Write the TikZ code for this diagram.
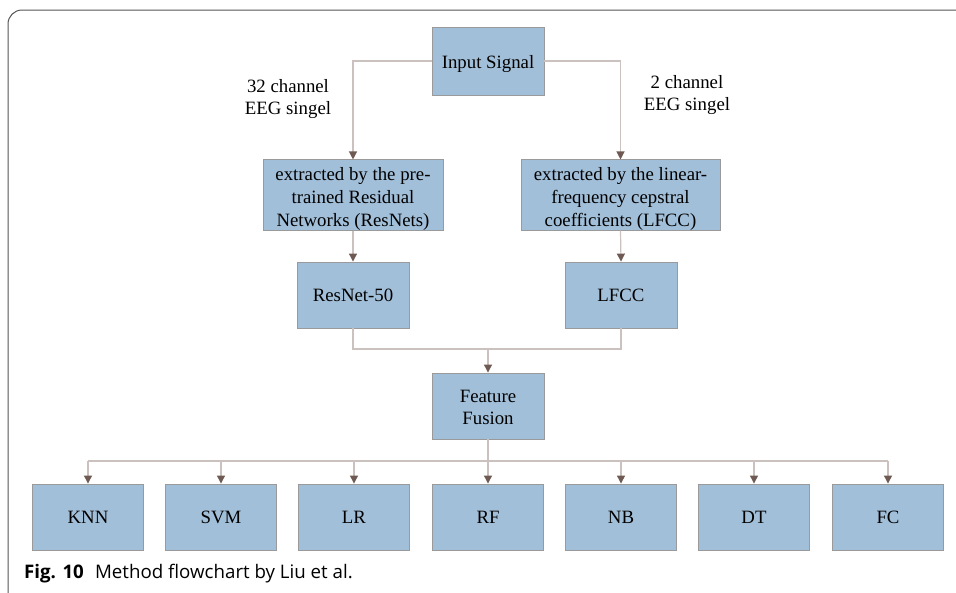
\documentclass[tikz,border=0pt]{standalone}
\usepackage{fontspec}
\setmainfont{Liberation Serif}
\newfontfamily\capfont{Open Sans}
\usetikzlibrary{arrows.meta}
\definecolor{boxfill}{HTML}{A2BFD9}
\definecolor{boxline}{HTML}{9A9A9A}
\definecolor{wire}{HTML}{CBC1BE}
\definecolor{tipcol}{HTML}{6E5A52}
\definecolor{framecol}{HTML}{555555}
% invisible strut to push the first text line a little lower in its box
\newcommand{\droptext}[1]{\rule{0pt}{#1}}
\tikzset{
  stepbox/.style={draw=boxline, line width=0.9pt, fill=boxfill, inner sep=0pt,
    font=\fontsize{18.8}{22.6}\selectfont, align=center},
  wire/.style={draw=wire, line width=1.2pt},
  flow/.style={wire, -{Triangle[width=8pt,length=8pt,color=tipcol]}},
  lbl/.style={font=\fontsize{18.8}{22.6}\selectfont, align=center, inner sep=0pt}
}
\begin{document}
\begin{tikzpicture}[x=1pt,y=-1pt]
\useasboundingbox (0,0) rectangle (956,592);
% outer frame
\begin{scope}
\clip (0,0) rectangle (956,592);
\draw[framecol, line width=1pt, rounded corners=14pt] (8,10) rectangle (990,640);
\end{scope}
% nodes
\node[stepbox, minimum width=112pt, minimum height=68pt] (in) at (488,61) {\droptext{18.5pt}Input Signal};
\node[stepbox, minimum width=180pt, minimum height=68pt] (ext1) at (353,195)
  {\droptext{21pt}extracted by the pre-\\trained Residual\\Networks (ResNets)};
\node[stepbox, minimum width=199pt, minimum height=68pt] (ext2) at (620.5,195)
  {\droptext{21pt}extracted by the linear-\\frequency cepstral\\coefficients (LFCC)};
\node[stepbox, minimum width=112pt, minimum height=66pt] (res) at (353,295) {ResNet-50};
\node[stepbox, minimum width=112pt, minimum height=66pt] (lfcc) at (621,295) {LFCC};
\node[stepbox, minimum width=112pt, minimum height=66pt] (fus) at (488,406) {\droptext{15pt}Feature\\Fusion};
\foreach \n/\t/\x in {knn/KNN/88, svm/SVM/221, lr/LR/354, rf/RF/488, nb/NB/621, dt/DT/754, fc/FC/888}
  \node[stepbox, minimum width=111pt, minimum height=66pt] (\n) at (\x,517) {\t};
% channel labels
\node[lbl] (l1) at (288,99) {32 channel\\EEG singel};
\node[lbl] (l2) at (687,95) {2 channel\\EEG singel};
% connectors
\draw[flow] (in.west) -| (ext1.north);
\draw[flow] (in.east) -| (ext2.north);
\draw[flow] (ext1.south) -- (res.north);
\draw[flow] (ext2.south) -- (lfcc.north);
\coordinate (mergeL) at (353,349);
\coordinate (mergeR) at (621,349);
\coordinate (mergeM) at (488,349);
\draw[wire] (res.south) -- (mergeL) -- (mergeR) -- (lfcc.south);
\draw[flow] (mergeM) -- (fus.north);
\coordinate (busL) at (88,461);
\coordinate (busR) at (888,461);
\coordinate (busM) at (488,461);
\draw[wire] (fus.south) -- (busM);
\draw[wire] (busL) -- (busR);
\foreach \n in {knn, svm, lr, rf, nb, dt, fc}
  \draw[flow] (busL -| \n.north) -- (\n.north);
% caption
\node[anchor=base west, inner sep=0pt, font=\capfont\fontsize{18.7}{21}\selectfont] (cap) at (24,578)
  {\textbf{Fig. 10}\hspace{0.6em}Method flowchart by Liu et al.};
\end{tikzpicture}
\end{document}
